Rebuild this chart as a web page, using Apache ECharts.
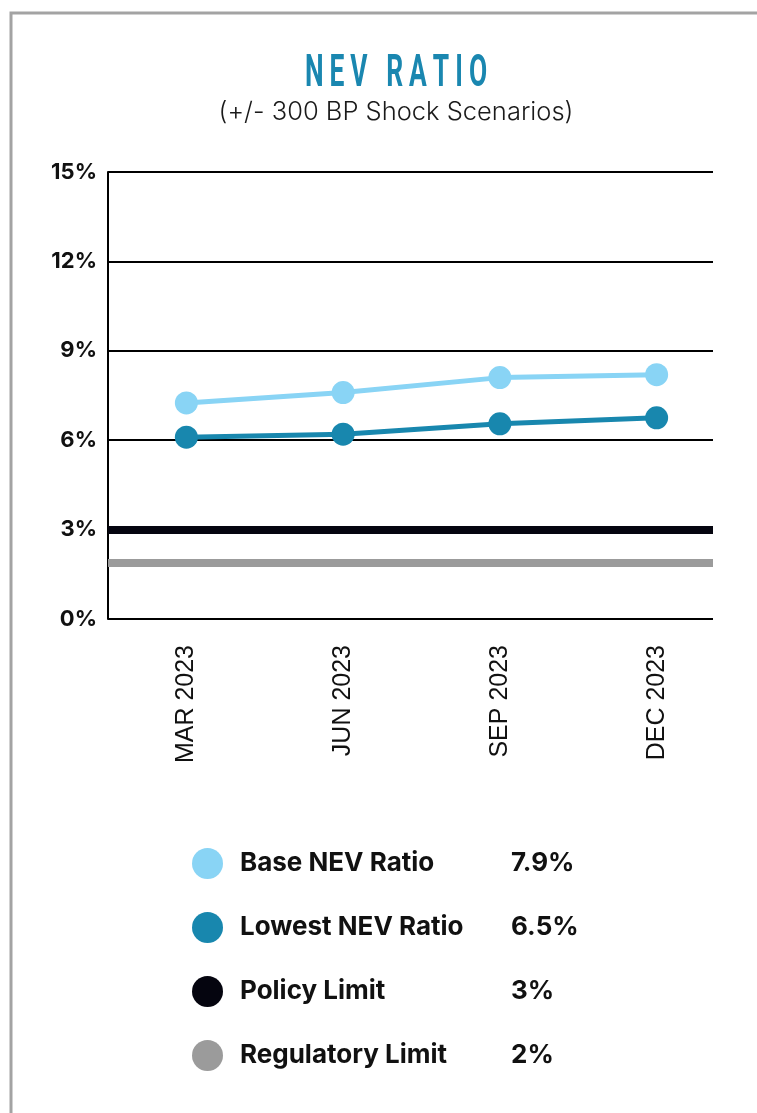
<!DOCTYPE html>
<html>
<head>
<meta charset="utf-8">
<script src="https://cdn.jsdelivr.net/npm/echarts@6/dist/echarts.min.js"></script>
<style>
html,body{margin:0;padding:0;background:#fff;}
#chart{width:757px;height:1113px;}
</style>
</head>
<body>
<div id="chart"></div>
<script>
const categories = ['MAR 2023', 'JUN 2023', 'SEP 2023', 'DEC 2023'];
const baseNev = [7.25, 7.6, 8.1, 8.2];
const lowestNev = [6.1, 6.2, 6.55, 6.75];
const policyLimit = [3];
const regulatoryLimit = [1.9];
const yTicks = [0, 3, 6, 9, 12, 15];
const seriesNames = ['Base NEV Ratio', 'Lowest NEV Ratio', 'Policy Limit', 'Regulatory Limit'];
const legendValues = ['7.9%', '6.5%', '3%', '2%'];
const titleText = 'NEV RATIO';
const subtitleText = '(+/- 300 BP Shock Scenarios)';

const colors = ['#89d4f5', '#1887ae', '#05050f', '#9b9b9b'];
const legendFont = 'Inter';

const chart = echarts.init(document.getElementById('chart'), null, {renderer: 'canvas'});

const titleRich = titleText.split('').map(ch => '{c|' + ch + '}').join('');

const option = {
  animation: false,
  backgroundColor: '#ffffff',
  graphic: [
    {
      type: 'rect', silent: true, z: -10,
      shape: {x: 11, y: 13, width: 900, height: 1200},
      style: {fill: 'none', stroke: '#a3a3a3', lineWidth: 3}
    },
    {
      type: 'text', x: 396, y: 75, scaleX: 0.6,
      style: {
        text: titleRich, textAlign: 'center', textVerticalAlign: 'middle',
        rich: {
          c: {fontSize: 44, fontWeight: 'bold', fontFamily: 'Roboto', fill: '#1a87b0', padding: [0, 5]}
        }
      }
    },
    {
      type: 'text', x: 396, y: 112,
      style: {
        text: subtitleText, fill: '#1a1a1a', font: '300 25.5px Inter',
        textAlign: 'center', textVerticalAlign: 'middle'
      }
    }
  ],
  grid: [
    {left: 108, right: 22, top: 172, bottom: 494, containLabel: false},
    {left: 108, right: 44, top: 172, bottom: 494, containLabel: false}
  ],
  xAxis: [
    {
      type: 'category', gridIndex: 0, data: categories, boundaryGap: true,
      axisLine: {show: false}, axisTick: {show: false}, splitLine: {show: false},
      axisLabel: {
        rotate: 90, margin: 26, color: '#111', fontSize: 25,
        fontFamily: 'Liberation Sans, Arial, sans-serif'
      }
    },
    {
      type: 'value', gridIndex: 1, min: 0, max: 1, show: false
    }
  ],
  yAxis: [
    {type: 'value', gridIndex: 0, min: yTicks[0], max: yTicks[yTicks.length - 1], interval: 3, show: false},
    {
      type: 'value', gridIndex: 1, min: yTicks[0], max: yTicks[yTicks.length - 1], interval: 3,
      axisLine: {show: true, lineStyle: {color: '#000', width: 2}},
      axisTick: {show: false},
      splitLine: {show: true, lineStyle: {color: '#000', width: 2}},
      axisLabel: {
        formatter: '{value}%', margin: 11, color: '#111', fontSize: 22,
        fontWeight: 700, fontFamily: legendFont
      }
    }
  ],
  legend: {
    data: seriesNames,
    orient: 'vertical',
    left: 187, top: 843,
    icon: 'circle',
    itemWidth: 31, itemHeight: 31, itemGap: 33,
    selectedMode: false,
    formatter: function (name) {
      const i = seriesNames.indexOf(name);
      return '{n|' + name + '}{v|' + legendValues[i] + '}';
    },
    textStyle: {
      rich: {
        n: {width: 271, padding: [0, 0, 0, 12], fontSize: 26, fontWeight: 700, fontFamily: legendFont, color: '#111'},
        v: {fontSize: 26, fontWeight: 700, fontFamily: legendFont, color: '#111'}
      }
    }
  },
  series: [
    {
      name: seriesNames[2], type: 'line', xAxisIndex: 1, yAxisIndex: 1, data: [],
      itemStyle: {color: colors[2]}, lineStyle: {color: colors[2]},
      markLine: {
        silent: true, symbol: 'none', label: {show: false},
        lineStyle: {color: colors[2], width: 8, type: 'solid'},
        data: policyLimit.map(v => ({yAxis: v}))
      }
    },
    {
      name: seriesNames[3], type: 'line', xAxisIndex: 1, yAxisIndex: 1, data: [],
      itemStyle: {color: colors[3]}, lineStyle: {color: colors[3]},
      markLine: {
        silent: true, symbol: 'none', label: {show: false},
        lineStyle: {color: colors[3], width: 8, type: 'solid'},
        data: regulatoryLimit.map(v => ({yAxis: v}))
      }
    },
    {
      name: seriesNames[0], type: 'line', xAxisIndex: 0, yAxisIndex: 0, data: baseNev,
      symbol: 'circle', symbolSize: 23, z: 5,
      itemStyle: {color: colors[0]}, lineStyle: {color: colors[0], width: 5}
    },
    {
      name: seriesNames[1], type: 'line', xAxisIndex: 0, yAxisIndex: 0, data: lowestNev,
      symbol: 'circle', symbolSize: 23, z: 5,
      itemStyle: {color: colors[1]}, lineStyle: {color: colors[1], width: 5}
    }
  ]
};
chart.setOption(option);
</script>
</body>
</html>
